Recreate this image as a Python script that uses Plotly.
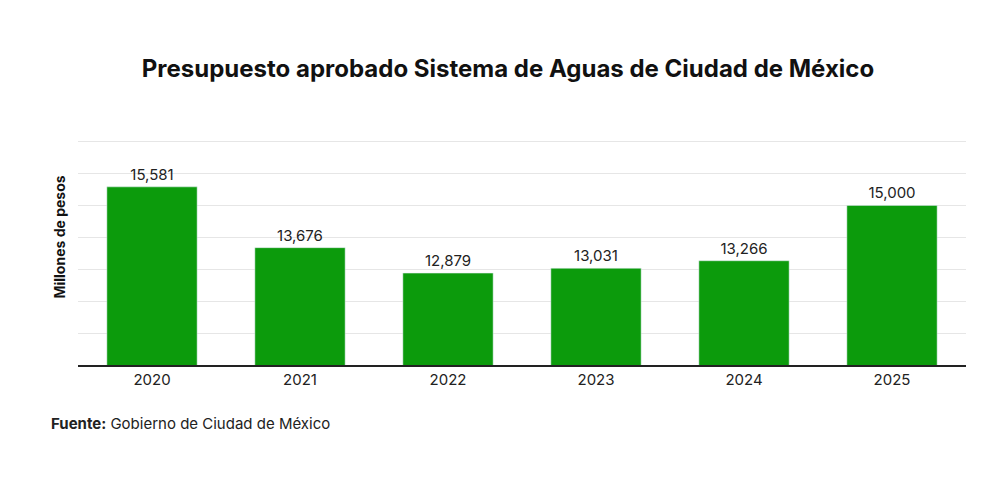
import plotly.graph_objects as go

years = ["2020", "2021", "2022", "2023", "2024", "2025"]
budget = [15581, 13676, 12879, 13031, 13266, 15000]
labels = ["15,581", "13,676", "12,879", "13,031", "13,266", "15,000"]

fig = go.Figure(go.Bar(
    x=years, y=budget, text=labels, textposition="outside",
    textfont=dict(family="Inter", size=15, color="#222"),
    marker_color="#0c9b0c", cliponaxis=False,
))
fig.update_layout(
    width=1000, height=503, plot_bgcolor="white", paper_bgcolor="white",
    margin=dict(l=70, r=42, t=101, b=146, autoexpand=False),
    bargap=0.39, showlegend=False,
    title=dict(text="<b>Presupuesto aprobado Sistema de Aguas de Ciudad de México</b>",
               x=0.5, y=0.88, xanchor="center", yanchor="middle",
               font=dict(family="Inter", size=24, color="#111")),
    font=dict(family="Inter"),
)
fig.update_yaxes(range=[10000, 18020], tickvals=list(range(11000, 18001, 1000)),
                 showticklabels=False, automargin=False,
                 gridcolor="#e6e6e6", zeroline=False,
                 title=dict(text="<b>Millones de pesos</b>", standoff=8,
                            font=dict(size=14, color="#111")))
fig.update_xaxes(showline=True, linecolor="#222", linewidth=1.5, ticks="",
                 automargin=False, tickfont=dict(size=15, color="#222"))
fig.add_annotation(text="<b>Fuente:</b> Gobierno de Ciudad de México",
                   xref="paper", yref="paper", x=-0.033, y=-0.23,
                   xanchor="left", yanchor="middle", showarrow=False,
                   font=dict(family="Inter", size=15, color="#222"))
fig.write_html("out.html")
